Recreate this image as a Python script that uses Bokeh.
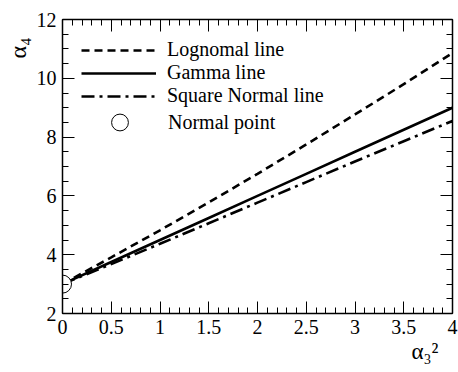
from bokeh.plotting import figure
from bokeh.models import (LinearAxis, FixedTicker, Range1d, Legend, LegendItem, Title)
from bokeh.embed import file_html
from bokeh.resources import INLINE

# data
alpha3_sq = [0, 0.5, 1, 1.5, 2, 2.5, 3, 3.5, 4]
lognormal_line = [3.0, 3.91, 4.83, 5.78, 6.75, 7.75, 8.77, 9.80, 10.86]
gamma_line = [3.0, 3.75, 4.5, 5.25, 6.0, 6.75, 7.5, 8.25, 9.0]
square_normal_line = [3.0, 3.68, 4.37, 5.07, 5.77, 6.47, 7.17, 7.86, 8.55]
normal_point_x = [0]
normal_point_y = [3]

x_ticks = [0, 0.5, 1, 1.5, 2, 2.5, 3, 3.5, 4]
x_tick_labels = {0: "0", 0.5: "0.5", 1: "1", 1.5: "1.5", 2: "2", 2.5: "2.5",
                 3: "3", 3.5: "3.5", 4: "4"}
y_ticks = [2, 4, 6, 8, 10, 12]
y_tick_labels = {2: "2", 4: "4", 6: "6", 8: "8", 10: "10", 12: "12"}

FONT = "Liberation Serif"

p = figure(width=458, height=372, output_backend="svg", toolbar_location=None,
           x_range=Range1d(0, 4), y_range=Range1d(2, 12),
           x_axis_location=None, y_axis_location=None,
           min_border_left=62, min_border_right=6, min_border_top=19,
           min_border_bottom=59)
p.grid.visible = False
p.outline_line_color = None
p.background_fill_color = "white"
p.border_fill_color = "white"


def style_axis(ax):
    ax.axis_line_color = "black"
    ax.axis_line_width = 1.5
    ax.major_tick_in = 12
    ax.major_tick_out = 0
    ax.minor_tick_in = 6
    ax.minor_tick_out = 0
    ax.major_tick_line_color = "black"
    ax.minor_tick_line_color = "black"
    ax.major_tick_line_width = 1
    ax.minor_tick_line_width = 1
    ax.major_label_text_font = FONT
    ax.major_label_text_font_size = "20px"
    ax.major_label_text_color = "black"


xt = FixedTicker(ticks=x_ticks, minor_ticks=[i / 10 for i in range(0, 41)])
yt = FixedTicker(ticks=y_ticks, minor_ticks=[2 + i * 0.5 for i in range(0, 21)])

bottom = LinearAxis(ticker=xt, major_label_overrides=x_tick_labels)
style_axis(bottom)
bottom.major_label_standoff = 6
p.add_layout(bottom, "below")

top = LinearAxis(ticker=xt, major_label_overrides={t: "" for t in x_ticks})
style_axis(top)
top.major_label_standoff = 0
p.add_layout(top, "above")

left = LinearAxis(ticker=yt, major_label_overrides=y_tick_labels)
style_axis(left)
left.major_label_standoff = 6
p.add_layout(left, "left")

right = LinearAxis(ticker=yt, major_label_overrides={t: "" for t in y_ticks})
style_axis(right)
right.major_label_standoff = 0
p.add_layout(right, "right")

r_log = p.line(alpha3_sq, lognormal_line, line_color="black", line_width=2.6,
               line_dash="8 5")
r_gam = p.line(alpha3_sq, gamma_line, line_color="black", line_width=2.6)
r_sq = p.line(alpha3_sq, square_normal_line, line_color="black", line_width=2.6,
              line_dash="13 5 3 5")
r_pt = p.scatter(normal_point_x, normal_point_y, marker="circle", size=18,
                 fill_color="white", line_color="black", line_width=1)

legend = Legend(items=[
    LegendItem(label="Lognomal line", renderers=[r_log]),
    LegendItem(label="Gamma line", renderers=[r_gam]),
    LegendItem(label="Square Normal line", renderers=[r_sq]),
], location="top_left")
legend.border_line_color = None
legend.background_fill_alpha = 0
legend.glyph_width = 75
legend.glyph_height = 20
legend.label_height = 20
legend.spacing = 0
legend.label_standoff = 11
legend.label_text_font = FONT
legend.label_text_font_size = "20px"
legend.label_text_color = "black"
legend.margin = 19
legend.padding = 10
p.add_layout(legend, "center")

legend2 = Legend(items=[
    LegendItem(label="Normal point", renderers=[r_pt]),
], location=(20, 170))
legend2.border_line_color = None
legend2.background_fill_alpha = 0
legend2.glyph_width = 75
legend2.glyph_height = 42
legend2.label_height = 42
legend2.label_standoff = 11
legend2.label_text_font = FONT
legend2.label_text_font_size = "20px"
legend2.label_text_color = "black"
legend2.margin = 0
legend2.padding = 0
p.add_layout(legend2, "center")

# axis titles
p.add_layout(Title(text="α₄", align="right", offset=18, text_font=FONT,
                   text_font_size="24px", text_font_style="normal",
                   text_color="black", standoff=5), "left")
p.add_layout(Title(text="α₃²", align="right", offset=14, text_font=FONT,
                   text_font_size="23px", text_font_style="normal",
                   text_color="black", standoff=0), "below")

open("out.html", "w").write(file_html(p, INLINE))
